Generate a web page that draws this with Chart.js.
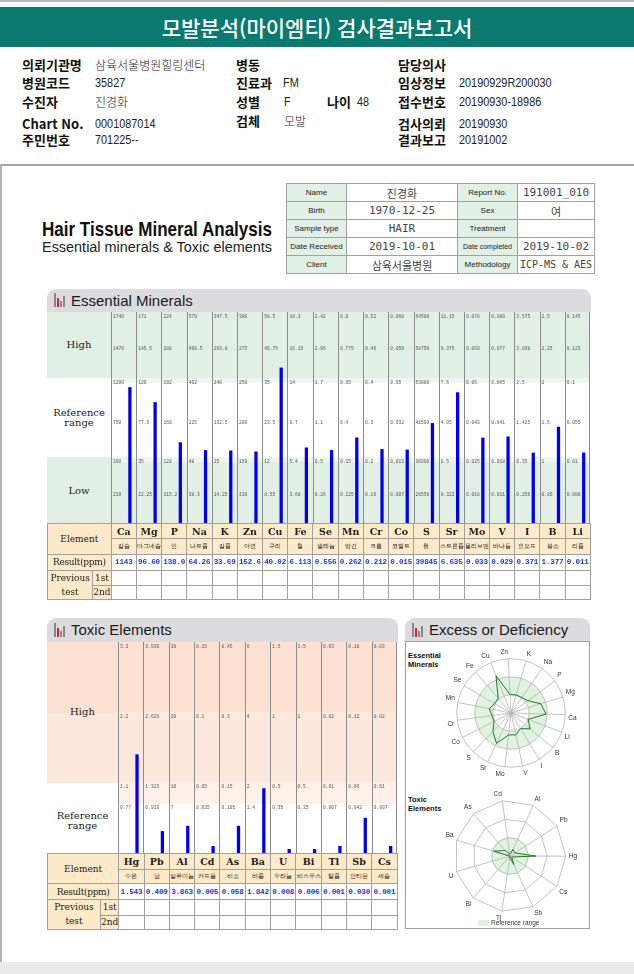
<!DOCTYPE html>
<html lang="ko">
<head>
<meta charset="utf-8">
<title>모발분석(마이엠티) 검사결과보고서</title>
<script src="https://cdn.jsdelivr.net/npm/chart.js@4.4.1/dist/chart.umd.min.js"></script>
<style>
  body { margin: 0; width: 634px; height: 974px; position: relative; overflow: hidden; background: #fff;
         font-family: 'Noto Sans CJK KR', 'Liberation Sans', sans-serif; color: #111; }
  .abs { position: absolute; white-space: nowrap; }
  #topline { position: absolute; left: 0; top: 0; width: 634px; height: 2px; background: #b8b8b8; }
  #title { position: absolute; left: 0; top: 7px; width: 634px; height: 40px; background: #0a7a70; color: #fff;
           font: 500 21px 'Noto Sans CJK KR'; line-height: 40px; text-align: center; }
  .lb { position: absolute; font: 700 13px 'Noto Sans CJK KR'; line-height: 16px; white-space: nowrap; }
  .vl { position: absolute; font: 400 12.5px 'Liberation Sans', 'Noto Sans CJK KR'; line-height: 16px; white-space: nowrap; color: #222;
        transform: scaleX(0.87); transform-origin: left center; }
  .vk { position: absolute; font: 300 12px 'Noto Sans CJK KR'; line-height: 16px; white-space: nowrap; color: #222; }
  #page { position: absolute; left: 0; top: 164px; width: 640px; height: 796px; border-top: 2px solid #a6a6a6; border-left: 2px solid #b4b4b4; }
  #foot { position: absolute; left: 0; top: 962px; width: 634px; height: 12px; background: #ebebeb; }
  .fit { position: absolute; white-space: nowrap; transform-origin: left center; }
  #htma { left: 42px; top: 219px; font: 700 20.5px 'Liberation Sans'; line-height: 20px; color: #111; }
  #htma2 { left: 42px; top: 239px; font: 400 14px 'Liberation Sans'; line-height: 16px; color: #222; }
  table { position: absolute; border-collapse: collapse; table-layout: fixed; }
  table td { border: 1px solid #a0a0a0; padding: 0; text-align: center; overflow: hidden; white-space: nowrap; }
  #info td { font: 11px 'DejaVu Sans Mono', 'Noto Sans CJK KR'; color: #444; height: 17px; }
  #info td.k { background: #e3f0e6; font: 8px 'Liberation Sans'; color: #222; }
  .sechead { position: absolute; background: #dcdcde; border-radius: 9px 9px 0 0; font: 15px 'Liberation Sans';
             line-height: 23px; padding-left: 24px; box-sizing: border-box; color: #1a1a1a; }
  .ico { position: absolute; bottom: 5px; background: #888; width: 2px; }
  .band { position: absolute; font: 10px 'DejaVu Serif'; color: #222; display: flex; align-items: center;
          justify-content: center; text-align: center; line-height: 10px; }
  .res td { font: 9px 'DejaVu Serif'; color: #222; }
  .res td.tan { background: #fdeac8; }
  .res td.sym { font-weight: 700; font-size: 9.5px; }
  .res td.nm { font-size: 5.5px; }
  .res td.val { font: 700 7.6px 'Liberation Mono'; color: #2438d0; letter-spacing: -0.2px; }
  .chartbox { position: absolute; }
  #panel { position: absolute; left: 405px; top: 641px; width: 185px; height: 288px; border: 1px solid #a0a0a0; box-sizing: border-box; }
  .rtitle { position: absolute; font: 700 7.5px 'Liberation Sans'; line-height: 9px; }
</style>
</head>
<body>
<div id="topline"></div>
<div id="title">모발분석(마이엠티) 검사결과보고서</div>

<div class="lb" style="left:22px;top:57px">의뢰기관명</div>
<div class="vk" style="left:95px;top:57px">삼육서울병원힐링센터</div>
<div class="lb" style="left:236px;top:57px">병동</div>
<div class="lb" style="left:398px;top:57px">담당의사</div>

<div class="lb" style="left:22px;top:75px">병원코드</div>
<div class="vl" style="left:95px;top:75px">35827</div>
<div class="lb" style="left:236px;top:75px">진료과</div>
<div class="vl" style="left:283px;top:75px">FM</div>
<div class="lb" style="left:398px;top:75px">임상정보</div>
<div class="vl" style="left:459px;top:75px">20190929R200030</div>

<div class="lb" style="left:22px;top:94px">수진자</div>
<div class="vk" style="left:95px;top:94px">진경화</div>
<div class="lb" style="left:236px;top:94px">성별</div>
<div class="vl" style="left:284px;top:94px">F</div>
<div class="lb" style="left:327px;top:94px">나이</div>
<div class="vl" style="left:357px;top:94px">48</div>
<div class="lb" style="left:398px;top:94px">접수번호</div>
<div class="vl" style="left:459px;top:94px">20190930-18986</div>

<div class="lb" style="left:22px;top:116px">Chart No.</div>
<div class="vl" style="left:95px;top:116px">0001087014</div>
<div class="lb" style="left:236px;top:113px">검체</div>
<div class="vk" style="left:284px;top:113px">모발</div>
<div class="lb" style="left:398px;top:116px">검사의뢰</div>
<div class="vl" style="left:459px;top:116px">20190930</div>

<div class="lb" style="left:22px;top:132px">주민번호</div>
<div class="vl" style="left:95px;top:132px">701225--</div>
<div class="lb" style="left:398px;top:132px">결과보고</div>
<div class="vl" style="left:459px;top:132px">20191002</div>

<div id="page"></div>
<div id="foot"></div>

<div id="htma" class="fit" data-w="230">Hair Tissue Mineral Analysis</div>
<div id="htma2" class="fit" data-w="230">Essential minerals &amp; Toxic elements</div>

<table id="info" style="left:286px;top:183px;width:308px">
  <colgroup><col style="width:60px"><col style="width:111px"><col style="width:60px"><col style="width:77px"></colgroup>
  <tr><td class="k">Name</td><td>진경화</td><td class="k">Report No.</td><td>191001_010</td></tr>
  <tr><td class="k">Birth</td><td>1970-12-25</td><td class="k">Sex</td><td>여</td></tr>
  <tr><td class="k">Sample type</td><td>HAIR</td><td class="k">Treatment</td><td></td></tr>
  <tr><td class="k">Date Received</td><td>2019-10-01</td><td class="k" style="font-size:7px">Date completed</td><td>2019-10-02</td></tr>
  <tr><td class="k">Client</td><td>삼육서울병원</td><td class="k">Methodology</td><td style="font-size:10px">ICP-MS &amp; AES</td></tr>
</table>

<!-- Essential minerals -->
<div class="sechead" style="left:47px;top:289px;width:544px;height:23px">
  <span class="ico" style="left:7px;height:14px"></span><span class="ico" style="left:10px;height:9px;background:#d8262b;width:2px"></span>
  <span class="ico" style="left:13px;height:6px"></span><span class="ico" style="left:16px;height:11px"></span>Essential Minerals</div>
<div class="band" style="left:47px;top:312px;width:64px;height:66px;background:#e2efe5">High</div>
<div class="band" style="left:47px;top:378px;width:64px;height:79px;background:#fff">Reference<br>range</div>
<div class="band" style="left:47px;top:457px;width:64px;height:67px;background:#e2efe5">Low</div>
<div class="chartbox" style="left:111px;top:312px;width:479px;height:212px"><canvas id="essentialChart"></canvas></div>
<table class="res" id="essentialTable" style="left:47px;top:523px"></table>

<!-- Toxic elements -->
<div class="sechead" style="left:47px;top:618px;width:351px;height:24px">
  <span class="ico" style="left:7px;height:14px"></span><span class="ico" style="left:10px;height:9px;background:#d8262b;width:2px"></span>
  <span class="ico" style="left:13px;height:6px"></span><span class="ico" style="left:16px;height:11px"></span>Toxic Elements</div>
<div class="band" style="left:47px;top:642px;width:71px;height:71px;background:#fde1d3"></div>
<div class="band" style="left:47px;top:713px;width:71px;height:70px;background:#fde8dd"></div>
<div class="band" style="left:47px;top:702px;width:71px;height:20px">High</div>
<div class="band" style="left:47px;top:783px;width:71px;height:76px;background:#fff">Reference<br>range</div>
<div class="chartbox" style="left:118px;top:642px;width:279px;height:211px"><canvas id="toxicChart"></canvas></div>
<table class="res" id="toxicTable" style="left:47px;top:853px"></table>

<!-- Excess or deficiency -->
<div class="sechead" style="left:405px;top:618px;width:185px;height:24px">
  <span class="ico" style="left:7px;height:14px"></span><span class="ico" style="left:10px;height:9px;background:#d8262b;width:2px"></span>
  <span class="ico" style="left:13px;height:6px"></span><span class="ico" style="left:16px;height:11px"></span>Excess or Deficiency</div>
<div id="panel"></div>
<div class="rtitle" style="left:408px;top:651px">Essential<br>Minerals</div>
<div class="rtitle" style="left:408px;top:795px">Toxic<br>Elements</div>
<div class="chartbox" style="left:443px;top:648px;width:138px;height:130px"><canvas id="essentialRadar"></canvas></div>
<div class="chartbox" style="left:443px;top:790px;width:138px;height:132px"><canvas id="toxicRadar"></canvas></div>
<div class="abs" style="left:478px;top:920px;width:11px;height:6px;background:#e0f2e0"></div>
<div class="abs" style="left:491px;top:918px;font:6.5px 'Liberation Sans';line-height:9px;color:#333">Reference range</div>

<script>
const essentialElements = ['Ca', 'Mg', 'P', 'Na', 'K', 'Zn', 'Cu', 'Fe', 'Se', 'Mn', 'Cr', 'Co', 'S', 'Sr', 'Mo', 'V', 'I', 'B', 'Li'];
const essentialNames = ['칼슘', '마그네슘', '인', '나트륨', '칼륨', '아연', '구리', '철', '셀레늄', '망간', '크롬', '코발트', '황', '스트론튬', '몰리브덴', '바나듐', '요오드', '붕소', '리튬'];
const essentialResults = [1143, 96.60, 138.0, 64.26, 33.69, 152.6, 40.02, 6.113, 0.556, 0.262, 0.212, 0.015, 39845, 6.635, 0.033, 0.029, 0.371, 1.377, 0.011];
// per element: high top, high mid, high/ref, ref mid, ref/low, low mid
const essentialTicks = [
    [1740, 1470, 1200, 750, 300, 210],
    [171, 145.5, 120, 77.5, 35, 22.25],
    [224, 208, 192, 160, 128, 115.2],
    [579, 490.5, 402, 225, 48, 38.3],
    [347.5, 293.8, 240, 132.5, 25, 14.25],
    [300, 275, 250, 200, 150, 130],
    [58.5, 46.75, 35, 23.5, 12, 8.55],
    [18.3, 16.15, 14, 9.7, 5.4, 3.68],
    [2.42, 2.06, 1.7, 1.1, 0.5, 0.26],
    [0.9, 0.775, 0.65, 0.4, 0.15, 0.125],
    [0.52, 0.46, 0.4, 0.3, 0.2, 0.16],
    [0.068, 0.059, 0.05, 0.032, 0.013, 0.007],
    [64500, 58750, 53000, 41500, 30000, 26550],
    [11.15, 9.375, 7.6, 4.05, 0.5, 0.322],
    [0.078, 0.069, 0.06, 0.043, 0.025, 0.018],
    [0.089, 0.077, 0.065, 0.041, 0.018, 0.011],
    [3.575, 3.038, 2.5, 1.425, 0.35, 0.256],
    [2.5, 2.25, 2, 1.5, 1, 0.85],
    [0.145, 0.123, 0.1, 0.055, 0.01, 0.008],
];

const toxicElements = ['Hg', 'Pb', 'Al', 'Cd', 'As', 'Ba', 'U', 'Bi', 'Tl', 'Sb', 'Cs'];
const toxicNames = ['수은', '납', '알루미늄', '카드뮴', '비소', '바륨', '우라늄', '비스무스', '탈륨', '안티몬', '세슘'];
const toxicResults = [1.543, 0.409, 3.863, 0.005, 0.058, 1.842, 0.008, 0.006, 0.001, 0.030, 0.001];
// per element: top, high, ref upper, ref mark
const toxicTicks = [
    [3.3, 2.2, 1.1, 0.77],
    [3.939, 2.626, 1.313, 0.919],
    [30, 20, 10, 7],
    [0.15, 0.1, 0.05, 0.035],
    [0.45, 0.3, 0.15, 0.105],
    [6, 4, 2, 1.4],
    [1.5, 1, 0.5, 0.35],
    [1.5, 1, 0.5, 0.35],
    [0.03, 0.02, 0.01, 0.007],
    [0.18, 0.12, 0.06, 0.042],
    [0.03, 0.02, 0.01, 0.007],
];

const essentialRadarOrder = ['Zn', 'K', 'Na', 'P', 'Mg', 'Ca', 'Li', 'B', 'I', 'V', 'Mo', 'Sr', 'S', 'Co', 'Cr', 'Mn', 'Se', 'Fe', 'Cu'];
const toxicRadarOrder = ['Cd', 'Al', 'Pb', 'Hg', 'Cs', 'Sb', 'Tl', 'Bi', 'U', 'Ba', 'As'];

// squeeze the report heading to the width it has in the print
document.querySelectorAll('.fit').forEach(function (el) {
    let w = el.getBoundingClientRect().width;
    el.style.transform = 'scaleX(' + (Number(el.dataset.w) / w) + ')';
});

// result -> position on the 0..6 band scale (0-2 low, 2-4 reference, 4-6 high)
function essentialLevel(value, ticks) {
    let steps = [0].concat(ticks.slice().reverse());
    for (let k = 1; k < steps.length; k++) {
        if (value <= steps[k]) {
            return k - 1 + (value - steps[k - 1]) / (steps[k] - steps[k - 1]);
        }
    }
    return 6;
}

// result -> units of the reference upper limit (top of the column is 3)
function toxicLevel(value, ticks) {
    return value / ticks[0] * 3;
}

function formatResult(v) {
    if (v >= 1000) return String(v);
    if (v >= 1) return v.toPrecision(4);
    return v.toFixed(3);
}

function buildTable(id, elements, names, results, firstW, secondW, colW, heights) {
    let cols = '<colgroup><col style="width:' + firstW + 'px"><col style="width:' + secondW + 'px">';
    elements.forEach(function () { cols += '<col style="width:' + colW + 'px">'; });
    cols += '</colgroup>';
    let h = heights;
    let rows = '<tr style="height:' + h[0] + 'px"><td class="tan" colspan="2" rowspan="2">Element</td>';
    elements.forEach(function (e) { rows += '<td class="tan sym">' + e + '</td>'; });
    rows += '</tr><tr style="height:' + h[1] + 'px">';
    names.forEach(function (n) { rows += '<td class="tan nm">' + n + '</td>'; });
    rows += '</tr><tr style="height:' + h[2] + 'px"><td class="tan" colspan="2" style="letter-spacing:-0.3px">Result(ppm)</td>';
    results.forEach(function (r) { rows += '<td class="val">' + formatResult(r) + '</td>'; });
    rows += '</tr><tr style="height:' + h[3] + 'px"><td class="tan" rowspan="2" style="line-height:14px">Previous<br>test</td><td class="tan">1st</td>';
    elements.forEach(function () { rows += '<td></td>'; });
    rows += '</tr><tr style="height:' + h[4] + 'px"><td class="tan">2nd</td>';
    elements.forEach(function () { rows += '<td></td>'; });
    rows += '</tr>';
    let table = document.getElementById(id);
    table.style.width = (firstW + secondW + colW * elements.length) + 'px';
    table.innerHTML = cols + rows;
}

buildTable('essentialTable', essentialElements, essentialNames, essentialResults, 45.3, 18.4, 25.23, [15, 16, 15.7, 15, 14]);
buildTable('toxicTable', toxicElements, toxicNames, toxicResults, 53, 18.3, 25.3, [16, 14, 16, 15.7, 14.3]);

const essentialLevels = essentialResults.map(function (v, i) { return essentialLevel(v, essentialTicks[i]); });
const toxicLevels = toxicResults.map(function (v, i) { return toxicLevel(v, toxicTicks[i]); });

const barBlue = '#0000ee';

// column bands, separators and per-column scale labels
const columnBands = {
    id: 'columnBands',
    beforeDatasetsDraw(chart, args, opts) {
        let ctx = chart.ctx;
        let area = chart.chartArea;
        let y = chart.scales.y;
        ctx.save();
        opts.bands.forEach(function (b) {
            let top = y.getPixelForValue(b.to);
            let bottom = y.getPixelForValue(b.from);
            ctx.fillStyle = b.color;
            ctx.fillRect(area.left, top, area.right - area.left, bottom - top);
        });
        let n = opts.ticks.length;
        let w = (area.right - area.left) / n;
        ctx.strokeStyle = '#8c8c8c';
        ctx.lineWidth = 1;
        for (let i = 0; i <= n; i++) {
            let x = Math.round(area.left + i * w) + (i === n ? -0.5 : 0.5);
            ctx.beginPath();
            ctx.moveTo(x, area.top);
            ctx.lineTo(x, area.bottom);
            ctx.stroke();
        }
        ctx.font = "4.6px 'Liberation Mono'";
        ctx.fillStyle = '#555';
        ctx.textBaseline = 'top';
        opts.ticks.forEach(function (ticks, i) {
            ticks.forEach(function (t, k) {
                ctx.fillText(String(t), area.left + i * w + 2, y.getPixelForValue(opts.labelAt(t, k, ticks)) + 2);
            });
        });
        ctx.restore();
    }
};

function barOptions(yMax, extra) {
    return {
        responsive: true,
        maintainAspectRatio: false,
        animation: false,
        layout: {padding: 0},
        plugins: {legend: {display: false}, tooltip: {enabled: false}, columnBands: extra},
        scales: {
            x: {display: false, offset: true},
            y: {display: false, min: 0, max: yMax},
        },
    };
}

const essentialLabelLevels = [6, 5.07, 4.13, 3.0, 1.88, 0.94];

new Chart(document.getElementById('essentialChart'), {
    type: 'bar',
    data: {
        labels: essentialElements,
        datasets: [
            {data: essentialElements.map(function () { return null; }), backgroundColor: barBlue, categoryPercentage: 1, barPercentage: 0.26},
            {data: essentialLevels, backgroundColor: barBlue, categoryPercentage: 1, barPercentage: 0.26},
        ],
    },
    options: barOptions(6, {
        ticks: essentialTicks,
        bands: [
            {from: 4.13, to: 6, color: '#e2efe5'},
            {from: 4.0, to: 4.13, color: '#edf6ef'},
            {from: 0, to: 1.88, color: '#e2efe5'},
            {from: 1.75, to: 1.88, color: '#edf6ef'},
        ],
        labelAt: function (t, k) { return essentialLabelLevels[k]; },
    }),
    plugins: [columnBands],
});

new Chart(document.getElementById('toxicChart'), {
    type: 'bar',
    data: {
        labels: toxicElements,
        datasets: [
            {data: toxicElements.map(function () { return null; }), backgroundColor: barBlue, categoryPercentage: 1, barPercentage: 0.26},
            {data: toxicLevels, backgroundColor: barBlue, categoryPercentage: 1, barPercentage: 0.26, minBarLength: 4},
        ],
    },
    options: barOptions(3, {
        ticks: toxicTicks,
        bands: [
            {from: 2, to: 3, color: '#fde1d3'},
            {from: 1, to: 2, color: '#fde8dd'},
            {from: 0.7, to: 1, color: '#fdf1ea'},
        ],
        labelAt: function (t, k, ticks) { return toxicLevel(t, ticks); },
    }),
    plugins: [columnBands],
});

// green reference zone on the radar
const referenceZone = {
    id: 'referenceZone',
    beforeDraw(chart, args, opts) {
        let r = chart.scales.r;
        let ctx = chart.ctx;
        ctx.save();
        ctx.beginPath();
        ctx.arc(r.xCenter, r.yCenter, r.getDistanceFromCenterForValue(opts.to), 0, Math.PI * 2);
        if (opts.from > 0) {
            ctx.arc(r.xCenter, r.yCenter, r.getDistanceFromCenterForValue(opts.from), Math.PI * 2, 0, true);
        }
        ctx.fillStyle = '#e0f2e0';
        ctx.fill();
        ctx.restore();
    }
};

function radarOptions(max, step, circular, startAngle, zone) {
    return {
        responsive: true,
        maintainAspectRatio: false,
        animation: false,
        layout: {padding: 0},
        plugins: {legend: {display: false}, tooltip: {enabled: false}, referenceZone: zone},
        scales: {
            r: {
                min: 0,
                max: max,
                startAngle: startAngle,
                ticks: {display: false, stepSize: step},
                grid: {circular: circular, color: '#b4b4b4', lineWidth: 0.8},
                angleLines: {color: '#b4b4b4', lineWidth: 0.8},
                pointLabels: {font: {size: 6.5, family: 'Liberation Sans'}, color: '#333', padding: 3},
            }
        },
    };
}

new Chart(document.getElementById('essentialRadar'), {
    type: 'radar',
    data: {
        labels: essentialRadarOrder,
        datasets: [{
            data: essentialRadarOrder.map(function (e) { return essentialLevels[essentialElements.indexOf(e)]; }),
            borderColor: '#1f7a2a', borderWidth: 1, pointRadius: 0, fill: false,
        }],
    },
    options: radarOptions(6, 2, true, -3, {from: 2, to: 4}),
    plugins: [referenceZone],
});

new Chart(document.getElementById('toxicRadar'), {
    type: 'radar',
    data: {
        labels: toxicRadarOrder,
        datasets: [{
            data: toxicRadarOrder.map(function (e) { return toxicLevels[toxicElements.indexOf(e)]; }),
            borderColor: '#1f7a2a', borderWidth: 1, pointRadius: 0, fill: false,
        }],
    },
    options: radarOptions(3, 1, false, -8, {from: 0, to: 1}),
    plugins: [referenceZone],
});
</script>
</body>
</html>
